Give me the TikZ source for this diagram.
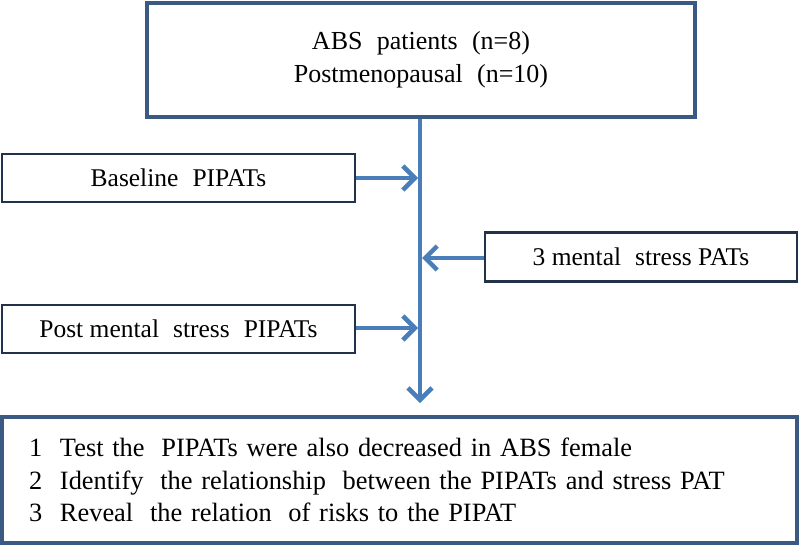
\documentclass[tikz,border=0pt]{standalone}
\usepackage{fontspec}
\setmainfont{Liberation Serif}
\usetikzlibrary{arrows.meta}
\definecolor{boxblue}{HTML}{3A5A84}
\definecolor{sidedark}{HTML}{22324A}
\definecolor{flowblue}{HTML}{4A7EBB}
\newcommand{\dsp}{\hspace{0.3em}}
\tikzset{
  mainbox/.style={draw=boxblue, line width=4pt, fill=white, inner sep=0pt, font=\fontsize{26}{33}\selectfont},
  sidebox/.style={draw=sidedark, line width=2.6pt, fill=white, inner sep=0pt, font=\fontsize{25.5}{30}\selectfont},
  flow/.style={draw=flowblue, line width=4.5pt},
  flowarrow/.style={flow, -{Straight Barb[length=12pt,width=24pt]}}
}
\begin{document}
\begin{tikzpicture}[x=1pt,y=-1pt]
\useasboundingbox (0,0) rectangle (800,557);
\node[mainbox, minimum width=548pt, minimum height=114pt, align=center] (top) at (421,60)
  {ABS\dsp{} patients\dsp{} (n=8)\\Postmenopausal\dsp{} (n=10)};
\node[sidebox, minimum width=353pt, minimum height=48pt] (base) at (178.5,178) {Baseline\dsp{} PIPATs};
\node[sidebox, minimum width=312pt, minimum height=49pt] (stress) at (641,257) {3 mental\dsp{} stress PATs};
\node[sidebox, minimum width=353pt, minimum height=48pt] (post) at (178.5,329) {Post mental\dsp{} stress\dsp{} PIPATs};
\node[mainbox, minimum width=795pt, minimum height=126pt, text width=741pt, inner xsep=27pt, align=left, font=\fontsize{26.4}{32.5}\selectfont] (res) at (399.5,480)
  {\makebox[31pt][l]{1}Test the\dsp{} PIPATs were also decreased in ABS female\\
   \makebox[31pt][l]{2}Identify\dsp{} the relationship\dsp{} between the PIPATs and stress PAT\\
   \makebox[31pt][l]{3}Reveal\dsp{} the relation\dsp{} of risks to the PIPAT};
\coordinate (tip) at (420,403);
\coordinate (jb) at (418,178);
\coordinate (js) at (422,258);
\coordinate (jp) at (418,328);
\draw[flowarrow] (top.south -| tip) -- (tip);
\draw[flowarrow] (base.east |- jb) -- (jb);
\draw[flowarrow] (stress.west |- js) -- (js);
\draw[flowarrow] (post.east |- jp) -- (jp);
\end{tikzpicture}
\end{document}
